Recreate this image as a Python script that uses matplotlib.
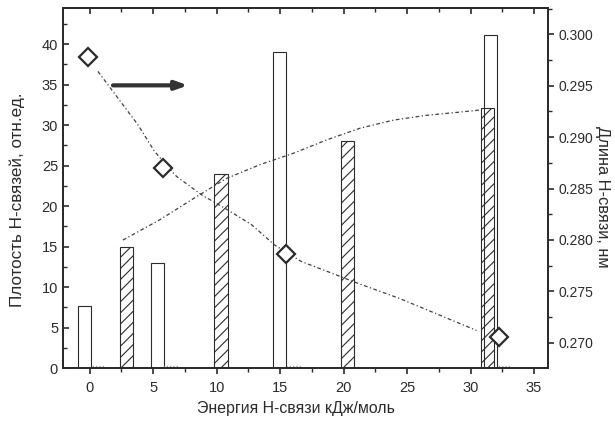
import matplotlib
matplotlib.use("Agg")
import matplotlib.pyplot as plt
from matplotlib.ticker import MultipleLocator, FormatStrFormatter

plt.rcParams['font.family'] = ['Liberation Sans', 'DejaVu Sans']

# ---- data ----
open_x = [-0.42, 5.33, 14.95, 31.55]
open_h = [7.6, 13.0, 39.0, 41.1]
hatch_x = [2.88, 10.35, 20.3, 31.35]
hatch_h = [14.9, 24.0, 28.0, 32.1]
tiny_x = [0.72, 6.42, 16.09, 32.7]
tiny_h = [0.3, 0.3, 0.3, 0.3]

diam_x = [-0.13, 5.78, 15.5, 32.25]
diam_y = [0.2978, 0.2870, 0.2786, 0.2706]

dec_x = [0.65, 2.23, 3.81, 5.12, 6.83, 8.8, 10.64, 12.74, 14.58, 16.68, 18.8, 20.88, 24.43, 30.47]
dec_y = [0.2964, 0.2938, 0.2912, 0.2886, 0.2862, 0.2844, 0.2831, 0.2815, 0.2795,
         0.2779, 0.2769, 0.2759, 0.2743, 0.2712]

inc_x = [2.62, 5.52, 8.41, 10.77, 13.4, 16.02, 18.65, 21.28, 23.9, 26.53, 29.16, 30.73]
inc_y = [15.8, 18.3, 21.15, 23.4, 25.1, 26.5, 28.15, 29.6, 30.6, 31.2, 31.6, 31.85]

arrow_start = (1.84, 34.9)
arrow_end = (7.75, 34.9)

xlabel = "Энергия Н-связи кДж/моль"
ylabel_left = "Плотость Н-связей, отн.ед."
ylabel_right = "Длина Н-связи, нм"

# ---- style ----
ink = '#2b2b2b'
bar_w = 1.05
plt.rcParams['hatch.linewidth'] = 0.8
plt.rcParams['hatch.color'] = '#3a3a3a'

fig = plt.figure(figsize=(6.15, 4.25), dpi=100)
ax = fig.add_axes([0.1024, 0.134, 0.7886, 0.847])
ax2 = ax.twinx()

ax.bar(open_x, open_h, width=bar_w, facecolor='none', edgecolor=ink, linewidth=0.8, zorder=2)
ax.bar(hatch_x, hatch_h, width=bar_w, facecolor='none', edgecolor=ink, linewidth=0.8,
       hatch='///', zorder=2)
ax.bar(tiny_x, tiny_h, width=bar_w, facecolor='none', edgecolor='#999999', linewidth=0.9,
       linestyle=':', zorder=2)

ax.plot(inc_x, inc_y, color='#404040', linewidth=0.9, linestyle=(0, (3, 2, 1, 2)), zorder=3)

ax.annotate('', xy=arrow_end, xytext=arrow_start,
            arrowprops=dict(arrowstyle='-|>,head_length=0.7,head_width=0.25',
                            color='#333333', linewidth=3, shrinkA=0, shrinkB=0))

ax2.plot(dec_x, dec_y, color='#404040', linewidth=0.9, linestyle=(0, (3, 2, 1, 2)), zorder=3)
ax2.plot(diam_x, diam_y, linestyle='none', marker='D', markersize=9,
         markerfacecolor='white', markeredgecolor=ink, markeredgewidth=1.6, zorder=4)

ax.set_xlim(-2.1, 36.1)
ax.set_ylim(0, 44.44)
ax2.set_ylim(0.26754, 0.30256)

ax.xaxis.set_major_locator(MultipleLocator(5))
ax.xaxis.set_minor_locator(MultipleLocator(2.5))
ax.yaxis.set_major_locator(MultipleLocator(5))
ax.yaxis.set_minor_locator(MultipleLocator(2.5))
ax2.yaxis.set_major_locator(MultipleLocator(0.005))
ax2.yaxis.set_minor_locator(MultipleLocator(0.0025))
ax2.yaxis.set_major_formatter(FormatStrFormatter('%.3f'))

ax.tick_params(axis='x', which='both', direction='out', colors=ink, labelsize=10.5, pad=5)
ax.tick_params(axis='x', which='major', length=4.5, width=1.2)
ax.tick_params(axis='x', which='minor', length=3, width=1.0)
ax.tick_params(axis='y', which='both', direction='in', colors=ink, labelsize=10.5)
ax.tick_params(axis='y', which='major', length=4.5, width=1.2)
ax.tick_params(axis='y', which='minor', length=3, width=1.0)
ax2.tick_params(axis='y', which='both', direction='out', colors=ink, labelsize=10, pad=3)
ax2.tick_params(axis='y', which='major', length=4.5, width=1.2)
ax2.tick_params(axis='y', which='minor', length=3, width=1.0)

sec = ax.secondary_xaxis('top')
sec.xaxis.set_major_locator(MultipleLocator(5))
sec.xaxis.set_minor_locator(MultipleLocator(2.5))
sec.tick_params(axis='x', which='both', direction='in', labeltop=False, colors=ink)
sec.tick_params(axis='x', which='major', length=4.5, width=1.2)
sec.tick_params(axis='x', which='minor', length=3, width=1.0)

for a in (ax, ax2):
    for s in a.spines.values():
        s.set_linewidth(1.3)
        s.set_color(ink)
sec.spines['top'].set_linewidth(1.3)
sec.spines['top'].set_color(ink)

fig.text(0.481, 0.038, xlabel, fontsize=11.4, color=ink, ha='center', va='center')
fig.text(0.0276, 0.529, ylabel_left, fontsize=12.3, color=ink, ha='center', va='center',
         rotation=90)
fig.text(0.979, 0.536, ylabel_right, fontsize=11.8, color=ink, ha='center', va='center',
         rotation=-90)

fig.savefig('out.png', dpi=100)
